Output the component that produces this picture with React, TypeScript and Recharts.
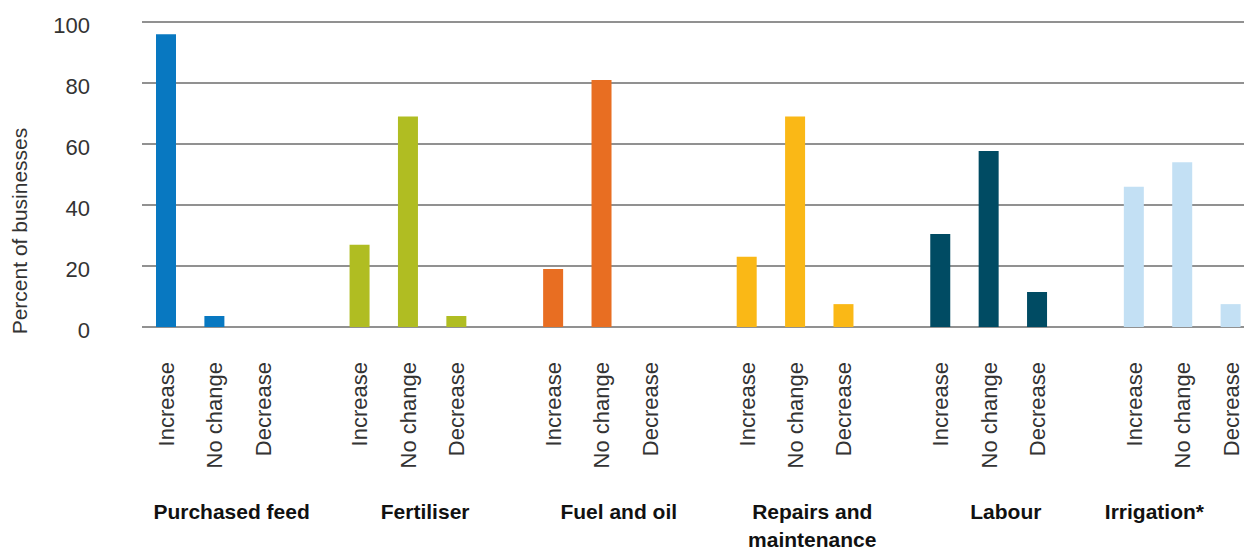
import { BarChart, Bar, Cell, XAxis, YAxis, CartesianGrid } from 'recharts';

const groups = ['Purchased feed', 'Fertiliser', 'Fuel and oil', 'Repairs and maintenance', 'Labour', 'Irrigation*'];
const responses = ['Increase', 'No change', 'Decrease'];

const increase = [96, 27, 19, 23, 30.5, 46];
const noChange = [3.6, 69, 81, 69, 57.7, 54];
const decrease = [0, 3.6, 0, 7.5, 11.5, 7.5];

const yTicks = [0, 20, 40, 60, 80, 100];

const palette = ['#0878c1', '#b0bd22', '#e86e22', '#fab816', '#004b63', '#c3e0f4'];

const FONT = '"Liberation Sans", Arial, Helvetica, sans-serif';

// one row per bar, with an empty slot between groups
const rows: any[] = [];
groups.forEach((g, gi) => {
  const vals = [increase[gi], noChange[gi], decrease[gi]];
  responses.forEach((r, ri) => {
    rows.push({ key: `${gi}-${ri}`, group: g, groupIndex: gi, response: r, pos: ri, value: vals[ri], color: palette[gi] });
  });
  if (gi < groups.length - 1) {
    rows.push({ key: `gap-${gi}`, spacer: true, value: null });
  }
});

// break long group names onto two lines
const wrap = (s: string, max = 15) => {
  const lines: string[] = [];
  let cur = '';
  s.split(' ').forEach(w => {
    const next = cur ? `${cur} ${w}` : w;
    if (next.length > max && cur) {
      lines.push(cur);
      cur = w;
    } else {
      cur = next;
    }
  });
  if (cur) lines.push(cur);
  return lines;
};

const XTick = ({ x, y, payload }: any) => {
  const row = rows.find(r => r.key === payload.value);
  if (!row || row.spacer) return null;
  const showGroup = row.pos === 1;
  // last group title sits a bit further left in the original
  const groupDx = row.groupIndex === groups.length - 1 ? -28 : 17;
  return (
    <g>
      <text
        transform={`translate(${x},${y + 35}) rotate(-90)`}
        textAnchor="end"
        dy="0.35em"
        fontSize={22}
        fontFamily={FONT}
        fill="#333"
      >
        {row.response}
      </text>
      {showGroup &&
        wrap(row.group).map((line, i) => (
          <text
            key={i}
            x={x + groupDx}
            y={y + 192 + i * 28}
            textAnchor="middle"
            fontSize={21}
            fontWeight="bold"
            fontFamily={FONT}
            fill="#111"
          >
            {line}
          </text>
        ))}
    </g>
  );
};

const YTick = ({ x, y, payload }: any) => (
  <text x={x - 52} y={y} dy={11} textAnchor="end" fontSize={22} fontFamily={FONT} fill="#333">
    {payload.value}
  </text>
);

const YLabel = () => (
  <text
    transform="translate(12,223) rotate(-90)"
    textAnchor="middle"
    dy="0.35em"
    fontSize={21}
    fontFamily={FONT}
    fill="#333"
  >
    Percent of businesses
  </text>
);

export default function App() {
  return (
    <div style={{ width: 1244, height: 541, overflow: 'hidden' }}>
      <BarChart
        width={1247}
        height={541}
        data={rows}
        margin={{ top: 14, right: 0, left: 0, bottom: 0 }}
        barCategoryGap={0}
      >
        <CartesianGrid vertical={false} stroke="#6c6c6c" strokeWidth={1.6} />
        <XAxis
          dataKey="key"
          type="category"
          interval={0}
          axisLine={false}
          tickLine={false}
          tickSize={0}
          tickMargin={0}
          height={222}
          tick={<XTick />}
        />
        <YAxis
          domain={[0, 100]}
          ticks={yTicks}
          interval={0}
          axisLine={false}
          tickLine={false}
          tickSize={0}
          tickMargin={0}
          width={134}
          tick={<YTick />}
          label={<YLabel />}
        />
        <Bar dataKey="value" barSize={20} isAnimationActive={false}>
          {rows.map(r => (
            <Cell key={r.key} fill={r.color || 'transparent'} />
          ))}
        </Bar>
      </BarChart>
    </div>
  );
}
